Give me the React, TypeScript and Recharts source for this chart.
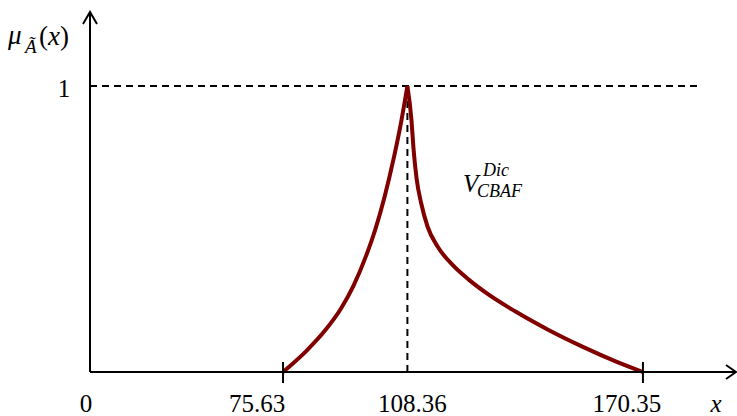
import { LineChart, Line, XAxis, YAxis, ReferenceLine, ReferenceDot, Customized } from 'recharts';

// membership function of the fuzzy number
const xLeft = [75.63, 81.86, 86.78, 90.89, 94.16, 97.46, 99.92, 102.38, 104.84, 106.46, 108.36];
const muLeft = [0, 0.075, 0.1465, 0.222, 0.301, 0.405, 0.499, 0.614, 0.752, 0.856, 1];
const xRight = [108.36, 109.43, 109.96, 110.76, 111.97, 113.7, 116.38, 120.12, 124.58, 129.47, 136.6, 145.5, 154.4, 163.32, 170.35];
const muRight = [1, 0.881, 0.783, 0.678, 0.591, 0.507, 0.437, 0.376, 0.322, 0.273, 0.213, 0.147, 0.0888, 0.0364, 0];

const xTicks = [24.83, 75.63, 108.36, 170.35];
const xTickLabels = ['0', '75.63', '108.36', '170.35'];
const markedTicks = [75.63, 170.35];
const peakX = 108.36;

// axis extents (origin is drawn as 0, axis is broken there)
const X_ORIGIN = 24.83;
const X_END = 194.84;
const DASH_END = 185.4;
const Y_TOP = 1.2587;

const SERIF = '"Liberation Serif", "Times New Roman", serif';
const RED = '#800000';

const data = [
  ...xLeft.map((x, i) => ({ x, left: muLeft[i], right: i === xLeft.length - 1 ? muRight[0] : null })),
  ...xRight.slice(1).map((x, i) => ({ x, left: null, right: muRight[i + 1] })),
];

// nudges so the labels sit where the figure has them
const labelDx: Record<string, number> = { '0': -4, '75.63': -26, '108.36': 5, '170.35': -16 };

const XTick = (props: any) => {
  const { x, y, payload } = props;
  const i = xTicks.indexOf(payload.value);
  const label = xTickLabels[i] ?? '';
  return (
    <g>
      {markedTicks.includes(payload.value) && (
        <line x1={x} x2={x} y1={y - 10} y2={y + 11} stroke="#000" strokeWidth={2} />
      )}
      <text x={x + (labelDx[label] ?? 0)} y={y + 40} textAnchor="middle" fontFamily={SERIF} fontSize={25} fill="#000">
        {label}
      </text>
    </g>
  );
};

const YTick = (props: any) => {
  const { x, y } = props;
  return (
    <g>
      <line x1={x} x2={x + 7} y1={y} y2={y} stroke="#000" strokeWidth={2} />
      <text x={x - 26} y={y + 11} textAnchor="middle" fontFamily={SERIF} fontSize={25} fill="#000">
        1
      </text>
    </g>
  );
};

const ArrowRight = (props: any) => (
  <path d={`M${props.cx - 10},${props.cy - 7} L${props.cx},${props.cy} L${props.cx - 10},${props.cy + 7}`} fill="none" stroke="#000" strokeWidth={2} />
);

const ArrowUp = (props: any) => (
  <path d={`M${props.cx - 7},${props.cy + 12} L${props.cx},${props.cy} L${props.cx + 7},${props.cy + 12}`} fill="none" stroke="#000" strokeWidth={2} />
);

const Annotations = () => (
  <g fontFamily={SERIF} fill="#000">
    <text x={8} y={44} fontSize={27} fontStyle="italic">
      μ
      <tspan x={25} y={53} fontSize={19}>Ã</tspan>
      <tspan x={39} y={45} fontStyle="normal">(</tspan>
      <tspan>x</tspan>
      <tspan fontStyle="normal">)</tspan>
    </text>
    <text x={463} y={192} fontSize={25} fontStyle="italic">
      V<tspan x={483} y={176} fontSize={18}>Dic</tspan>
      <tspan x={477} y={197} fontSize={18}>CBAF</tspan>
    </text>
    <text x={716} y={412} fontSize={25} fontStyle="italic" textAnchor="middle">x</text>
  </g>
);

export default function App() {
  return (
    <div style={{ position: 'absolute', left: 0, top: 0, width: 737, height: 416, background: '#fff' }}>
      <LineChart width={737} height={416} data={data} margin={{ top: 12, right: 1, bottom: 0, left: 50 }}>
        <XAxis
          type="number"
          dataKey="x"
          domain={[X_ORIGIN, X_END]}
          ticks={xTicks}
          interval={0}
          height={44}
          tickSize={0}
          tickMargin={0}
          tickLine={false}
          axisLine={{ stroke: '#000', strokeWidth: 2 }}
          tick={<XTick />}
        />
        <YAxis
          type="number"
          domain={[0, Y_TOP]}
          ticks={[1]}
          width={40}
          tickSize={0}
          tickMargin={0}
          tickLine={false}
          axisLine={{ stroke: '#000', strokeWidth: 2 }}
          tick={<YTick />}
        />
        <ReferenceLine
          segment={[{ x: X_ORIGIN, y: 1 }, { x: DASH_END, y: 1 }]}
          stroke="#000"
          strokeWidth={2}
          strokeDasharray="7 5"
        />
        <ReferenceLine
          segment={[{ x: peakX, y: 0 }, { x: peakX, y: 1 }]}
          stroke="#000"
          strokeWidth={2}
          strokeDasharray="7 5"
        />
        <Line dataKey="left" type="monotone" stroke={RED} strokeWidth={4} dot={false} isAnimationActive={false} />
        <Line dataKey="right" type="monotone" stroke={RED} strokeWidth={4} dot={false} isAnimationActive={false} />
        <ReferenceDot x={X_END} y={0} r={0} ifOverflow="visible" shape={<ArrowRight />} />
        <ReferenceDot x={X_ORIGIN} y={Y_TOP} r={0} ifOverflow="visible" shape={<ArrowUp />} />
        <Customized component={Annotations} />
      </LineChart>
    </div>
  );
}
